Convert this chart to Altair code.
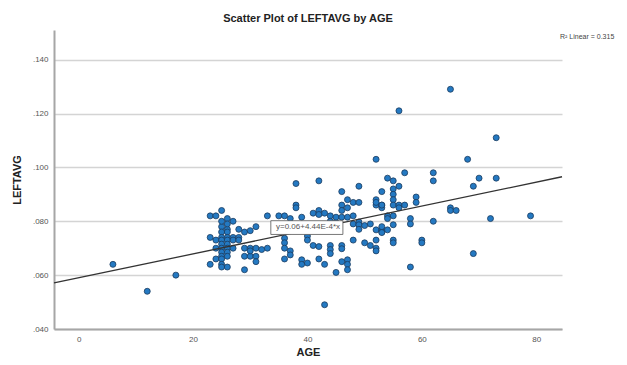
import altair as alt
import pandas as pd

# ---- data ----
age = [
    6, 12, 17,
    23, 24, 25, 26, 27,
    25, 26, 25, 26, 26, 25,
    23, 24, 25, 26, 27, 28,
    25, 26, 27, 28,
    25, 26,
    24, 25, 26, 27, 29, 30, 31,
    25, 26, 25, 26,
    24, 25,
    29, 30, 30, 31, 31,
    23, 25, 25, 26,
    29,
    29, 30, 31, 28,
    32, 33,
    33, 35, 36, 37, 39,
    38, 42,
    38, 38,
    41, 42, 42, 43, 44,
    40, 40, 40,
    36, 36, 36, 37, 37, 36,
    39, 39, 40,
    41, 42, 42, 43,
    44, 44, 44,
    43, 45,
    44, 45,
    45, 46, 47, 48,
    46, 47, 46, 47, 46, 48, 49,
    49, 52,
    48, 49, 49, 49, 50, 51,
    52, 53, 53, 54,
    48, 50, 51, 52, 52, 52,
    46, 46,
    46, 47, 47, 47,
    52, 52, 53, 53, 52,
    53, 54, 55, 56, 55, 55, 55, 55, 56, 57, 56, 53,
    54, 55, 55, 54,
    53, 53,
    55, 55,
    57, 56,
    58, 58, 58,
    59, 59, 60, 60,
    62, 62, 62,
    65, 65, 65, 66,
    68, 69, 69,
    70, 72, 73, 73, 79,
]
leftavg = [
    0.064, 0.054, 0.060,
    0.082, 0.082, 0.084, 0.081, 0.080,
    0.078, 0.077, 0.076, 0.076, 0.079, 0.080,
    0.074, 0.073, 0.074, 0.074, 0.074, 0.074,
    0.073, 0.073, 0.073, 0.073,
    0.0715, 0.0715,
    0.070, 0.070, 0.070, 0.070, 0.070, 0.070, 0.070,
    0.0685, 0.0685, 0.067, 0.067,
    0.066, 0.066,
    0.067, 0.067, 0.069, 0.067, 0.065,
    0.064, 0.064, 0.063, 0.063,
    0.062,
    0.076, 0.0765, 0.078, 0.077,
    0.0695, 0.070,
    0.082, 0.082, 0.082, 0.081, 0.0815,
    0.094, 0.095,
    0.086, 0.085,
    0.083, 0.084, 0.0825, 0.083, 0.082,
    0.078, 0.0745, 0.073,
    0.0737, 0.072, 0.070, 0.069, 0.0675, 0.066,
    0.0657, 0.064, 0.0645,
    0.071, 0.0706, 0.066, 0.064,
    0.071, 0.0695, 0.068,
    0.049, 0.061,
    0.080, 0.0795,
    0.0815, 0.0815, 0.0815, 0.082,
    0.091, 0.088, 0.086, 0.085, 0.084, 0.087, 0.087,
    0.093, 0.103,
    0.079, 0.0797, 0.0787, 0.077, 0.0784, 0.079,
    0.0768, 0.0768, 0.076, 0.0768,
    0.073, 0.072, 0.071, 0.073, 0.070, 0.069,
    0.071, 0.0698,
    0.065, 0.0657, 0.064, 0.062,
    0.088, 0.086, 0.086, 0.085, 0.087,
    0.091, 0.096, 0.095, 0.093, 0.092, 0.090, 0.088, 0.086, 0.086, 0.086, 0.085, 0.086,
    0.082, 0.082, 0.0787, 0.081,
    0.078, 0.0758,
    0.073, 0.072,
    0.098, 0.121,
    0.081, 0.079, 0.063,
    0.089, 0.087, 0.073, 0.072,
    0.098, 0.095, 0.080,
    0.129, 0.085, 0.084, 0.084,
    0.103, 0.093, 0.068,
    0.096, 0.081, 0.096, 0.111, 0.082,
]

x_domain = [-4.3, 84.5]
y_domain = [0.040, 0.151]
x_ticks = [0, 20, 40, 60, 80]
y_ticks = [0.04, 0.06, 0.08, 0.10, 0.12, 0.14]

fit_intercept = 0.0590
fit_slope = 4.44e-4
eq_label = "y=0.06+4.44E-4*x"
eq_pos = [40.1, 0.0777]          # age, value of label centre
eq_box = [33.6, 46.2, 0.0751, 0.0802]  # age1, age2, value1, value2
r2_label = "R\u00b2 Linear = 0.315"
title_text = "Scatter Plot of LEFTAVG by AGE"

W, H = 508, 299
FONT = "Liberation Sans"

pts = pd.DataFrame({"AGE": age, "LEFTAVG": leftavg})
fit_df = pd.DataFrame({"AGE": x_domain})
eq_df = pd.DataFrame({"AGE": [eq_pos[0]], "LEFTAVG": [eq_pos[1]], "t": [eq_label]})
box_df = pd.DataFrame({"a1": [eq_box[0]], "a2": [eq_box[1]], "v1": [eq_box[2]], "v2": [eq_box[3]]})
r2_df = pd.DataFrame({"t": [r2_label]})

xs = alt.Scale(domain=x_domain, nice=False, zero=False)
ys = alt.Scale(domain=y_domain, nice=False, zero=False)

x_axis = alt.Axis(values=x_ticks, grid=False, ticks=False, title="AGE",
                  labelPadding=6, titlePadding=3)
y_axis = alt.Axis(values=y_ticks, grid=True, ticks=False, title="LEFTAVG",
                  labelExpr="substring(format(datum.value, '.3f'), 1)",
                  labelPadding=6, titlePadding=10)

points = alt.Chart(pts).mark_point(
    filled=True, shape="circle", size=36, fill="#2479c2", stroke="#1b3b5e",
    strokeWidth=0.8, opacity=1
).encode(
    x=alt.X("AGE:Q", scale=xs, axis=x_axis),
    y=alt.Y("LEFTAVG:Q", scale=ys, axis=y_axis),
)

fit = alt.Chart(fit_df).transform_calculate(
    LEFTAVG=f"{fit_intercept} + {fit_slope} * datum.AGE"
).mark_line(color="#333333", strokeWidth=1.3).encode(
    x=alt.X("AGE:Q", scale=xs),
    y=alt.Y("LEFTAVG:Q", scale=ys),
)

box = alt.Chart(box_df).mark_rect(fill="white", stroke="#555555", strokeWidth=0.8).encode(
    x=alt.X("a1:Q", scale=xs), x2="a2:Q",
    y=alt.Y("v1:Q", scale=ys), y2="v2:Q",
)

eq = alt.Chart(eq_df).mark_text(font=FONT, fontSize=8, color="#555555").encode(
    x=alt.X("AGE:Q", scale=xs),
    y=alt.Y("LEFTAVG:Q", scale=ys),
    text="t:N",
)

r2 = alt.Chart(r2_df).mark_text(font=FONT, fontSize=7, color="#444444", align="left").encode(
    x=alt.value(W - 2), y=alt.value(7), text="t:N"
)

chart = alt.layer(points, fit, box, eq, r2).properties(
    width=W, height=H,
    title=alt.TitleParams(title_text, font=FONT, fontSize=11, fontWeight="bold",
                          color="#222222", anchor="middle", offset=6),
    padding={"left": 46, "top": 22, "right": 57, "bottom": 34},
    autosize=alt.AutoSizeParams(type="none"),
).configure_view(stroke=None).configure_axis(
    labelFont=FONT, labelFontSize=8, labelColor="#555555",
    titleFont=FONT, titleFontSize=11, titleFontWeight="bold", titleColor="#222222",
    domainColor="#a6a6a6", domainWidth=2,
    gridColor="#d4d4d4", gridWidth=1.3,
)

chart.save("out.html", embed_options={"renderer": "svg", "actions": False})
